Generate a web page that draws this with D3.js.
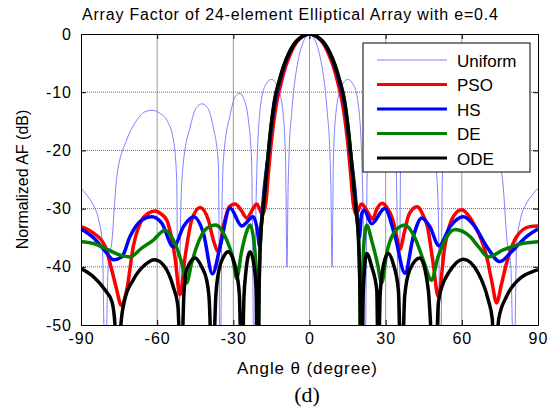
<!DOCTYPE html>
<html>
<head>
<meta charset="utf-8">
<script src="https://cdn.jsdelivr.net/npm/d3@7"></script>
<style>
body { margin:0; background:#fff; }
text { font-family: "Liberation Sans", Arial, sans-serif; }
</style>
</head>
<body>
<svg id="graph1"></svg>
<script>

// values, [angle in degree, AF in dB]

var uniformAF = [[-90,-26.5],[-87.5,-27.8],[-85,-29.5],[-83,-32],[-81.6,-36],[-80.5,-60],
    [-79.3,-40],[-77.9,-35.9],[-75.9,-24.5],[-72,-18.2],[-68,-14.8],[-65,-13.4],[-62,-13.1],[-59,-13.6],[-56.2,-14.8],[-53.6,-18.2],[-52.3,-25],[-51.7,-60],
    [-50.7,-30],[-49.7,-22.2],[-47,-16],[-44.5,-12.6],[-42.3,-12],[-40,-12.8],[-37.9,-16],[-35.9,-22.2],[-35.2,-60],
    [-34.4,-28],[-33.8,-21],[-31.3,-14],[-29.3,-10.8],[-27.4,-10.2],[-25.8,-11.2],[-24.1,-14.7],[-22.8,-22],[-21.8,-60],
    [-21.1,-30],[-19.6,-13.6],[-17.6,-9],[-15,-7.8],[-12.4,-9.3],[-10.4,-13.6],[-9.4,-22],[-8.9,-40],
    [-8.4,-26],[-8,-20],[-7,-13.5],[-6,-8.8],[-5,-5.8],[-4,-3.6],[-3,-2],[-2,-0.9],[-1,-0.2],[0,0],
    [1,-0.2],[2,-0.9],[3,-2],[4,-3.6],[5,-5.8],[6,-8.8],[7,-13.5],[8,-20],[8.4,-26],
    [8.9,-40],[9.4,-22],[10.4,-13.6],[12.4,-9.3],[15,-7.8],[17.6,-9],[19.6,-13.6],[21.1,-30],
    [21.8,-60],[22.8,-22],[24.1,-14.7],[25.8,-11.2],[27.4,-10.2],[29.3,-10.8],[31.3,-14],[33.8,-21],[34.4,-28],
    [35.2,-60],[35.9,-22.2],[37.9,-16],[40,-12.8],[42.3,-12],[44.5,-12.6],[47,-16],[49.7,-22.2],[50.7,-30],
    [51.7,-60],[52.3,-25],[53.6,-18.2],[56.2,-14.8],[59,-13.6],[62,-13.1],[65,-13.4],[68,-14.8],[72,-18.2],[75.9,-24.5],[77.9,-35.9],[79.3,-40],
    [80.5,-60],[81.6,-36],[83,-32],[85,-29.5],[87.5,-27.8],[90,-26.5]];

var psoAF = [[-90,-33.1],[-85.1,-34.2],[-80.5,-36.5],[-77.9,-40.5],[-75.9,-44],[-74.2,-46.6],[-72,-44],[-69.4,-36.5],[-66.1,-32],[-63.5,-30.8],
    [-60.8,-30.4],[-58.5,-30.9],[-56.2,-32],[-53,-38.3],[-51,-44.8],[-49,-38.3],[-46.4,-32],[-43.1,-29.8],[-39.8,-32],[-37.8,-35.5],
    [-35.9,-37.4],[-33.9,-33],[-31.5,-29.6],[-29.3,-29.2],[-27,-30.2],[-24.7,-31.6],[-22.5,-30.2],[-20.8,-29.2],[-18.5,-31],
    [-17.2,-29],[-16.2,-24],[-15,-18.5],[-13.2,-12.5],[-11.3,-8.6],[-9.4,-5.6],[-7.4,-3.3],[-5.5,-1.7],[-3.6,-0.7],[-1.8,-0.2],[0,0],
    [1.8,-0.2],[3.6,-0.7],[5.5,-1.7],[7.4,-3.3],[9.4,-5.6],[11.3,-8.6],[13.2,-12.5],[15,-18.5],[16.2,-24],[17.2,-29],
    [18.3,-31],[20.5,-29.2],[22.7,-30.4],[24.8,-31.8],[26.6,-30],[28.6,-29.1],[30.6,-29.9],[32.6,-31.6],[34.2,-34.5],[35.6,-37],
    [37.4,-34],[39.2,-31],[42.4,-29.7],[45,-31.4],[46.4,-33],[48.7,-39.4],[50.7,-45.1],[53.3,-36.5],[56.6,-31.4],[59.9,-30.2],
    [62.3,-31],[64.5,-32.5],[69.8,-38.3],[71.8,-42.5],[73.7,-46.2],[75.6,-43],[77.6,-39.4],[81.6,-34.8],[86.8,-33.1],[90,-33]];

var hsAF = [[-90,-33.5],[-85.1,-35],[-80.5,-37.3],[-77.2,-38.8],[-73.9,-38.3],[-70.7,-34.8],[-66.7,-32.2],[-62.1,-31.4],[-58.2,-32.5],
    [-53.6,-36.6],[-49.5,-33],[-45.7,-31.4],[-41.8,-34.2],[-38.2,-41.2],[-35.2,-36.5],[-31.3,-29.9],[-26.7,-33],[-22.1,-31.4],
    [-20.6,-33.5],[-19.6,-36.5],[-18.8,-31.5],[-17.8,-26.5],[-16.3,-21],[-15,-16],[-13.3,-11],[-11.6,-8],[-9.7,-5.2],[-7.7,-3.1],
    [-5.8,-1.6],[-3.8,-0.7],[-1.9,-0.2],[0,0],
    [1.9,-0.2],[3.8,-0.7],[5.8,-1.6],[7.7,-3.1],[9.7,-5.2],[11.6,-8],[13.3,-11],[15,-16],[16.3,-21],[17.8,-26.5],[18.8,-31.5],
    [19.6,-35],[20.5,-31],[21.5,-30.3],[24.5,-32.6],[29.6,-30],[33.7,-34.8],[37.6,-41.1],[40.9,-34.8],[44.2,-31.6],[47.4,-33.1],
    [51,-36.4],[55.5,-33],[60.6,-31.4],[65,-33],[69.8,-36.5],[75,-39.1],[79.6,-37.4],[85.5,-34.8],[90,-33.5]];

var deAF = [[-90,-35.7],[-85.1,-36],[-79.2,-37.1],[-74.6,-38],[-70.7,-38.3],[-66.1,-36.8],[-61.5,-35.4],[-56.9,-33.7],[-53.6,-35.4],
    [-50.3,-39.4],[-48.4,-42.8],[-46.5,-39.5],[-44.4,-36.5],[-40.5,-33.4],[-37,-32.8],[-32.6,-35.4],[-30.2,-38.5],[-28.7,-42],
    [-26.8,-37.5],[-24.8,-34],[-23.4,-32.8],[-21.8,-36],[-20.9,-42],[-20.3,-60],
    [-19.8,-43],[-19.3,-35.5],[-18.5,-31],[-17.6,-27],[-16.6,-22.2],[-15.3,-16.5],[-13.6,-11],[-12,-8.2],[-10,-5.3],[-8,-3.2],
    [-6,-1.7],[-4,-0.8],[-2,-0.2],[0,0],
    [2,-0.2],[4,-0.8],[6,-1.7],[8,-3.2],[10,-5.3],[12,-8.2],[13.6,-11],[15.3,-16.5],[16.6,-22.2],[17.6,-27],[18.5,-31],[19.3,-35.5],[19.8,-43],
    [20.2,-60],[20.9,-42],[21.6,-35],[22.5,-32.8],[24.5,-35.5],[26.8,-39.5],[28.4,-42.8],[30.5,-37.5],[33.5,-34],[37.6,-32.8],
    [41.5,-35],[44.8,-38.8],[48.1,-42.3],[50.5,-38.5],[52.7,-36],[57.3,-33.6],[63.2,-34.8],[67,-36.8],[70.4,-38.3],[76.3,-37.1],
    [82.9,-36.1],[90,-35.7]];

var odeAF = [[-90,-40.3],[-85.1,-41.7],[-80.5,-44],[-77.8,-46],[-76.6,-50],[-75.5,-60],[-74.3,-50],[-72.8,-45.7],[-69.5,-42.3],
    [-64.9,-39.7],[-61,-38.8],[-57,-40],[-53.7,-43.4],[-51.8,-46.9],[-50.6,-60],[-49.5,-45],[-48.4,-40.5],[-45,-38.5],[-42.5,-40],
    [-40.5,-42.3],[-39.5,-45.7],[-38.2,-60],[-36.9,-45],[-35.9,-41.1],[-33.5,-38],[-32,-37.4],[-30.5,-38.2],[-28.7,-41.1],[-27.6,-45],
    [-26.7,-60],[-25.8,-45],[-25.2,-41.5],[-23.4,-37.4],[-21.8,-40],[-21,-44],[-20.4,-60],
    [-19.8,-42],[-19.3,-35],[-18.5,-31],[-17.6,-27],[-16.6,-22.2],[-15.3,-16.5],[-13.6,-11],[-12,-8.2],[-10,-5.3],[-8,-3.2],
    [-6,-1.7],[-4,-0.8],[-2,-0.2],[0,0],
    [2,-0.2],[4,-0.8],[6,-1.7],[8,-3.2],[10,-5.3],[12,-8.2],[13.6,-11],[15.3,-16.5],[16.6,-22.2],[17.6,-27],[18.5,-31],[19.3,-35],[19.8,-42],
    [20.4,-60],[21.2,-44],[22.5,-37.7],[24.5,-40],[26.5,-44],[27.1,-60],[27.8,-45],[29,-40],[31,-37.7],[33,-39.5],[35,-44],
    [36.3,-60],[37.5,-45],[39.5,-40.5],[43.5,-38.5],[45.5,-40.5],[46.8,-44],[49.4,-60],[50.8,-46],[52.5,-43],[54.7,-41.1],
    [60.6,-38.7],[66.5,-41.1],[70.4,-45.7],[72,-49],[73,-60],[74.5,-49],[77.6,-45.1],[82.9,-42],[88.1,-40.8],[90,-40.5]];

var seriesNames = ["Uniform","PSO","HS","DE","ODE"];
var seriesData = [uniformAF, psoAF, hsAF, deAF, odeAF];
var xTicks = [-90,-60,-30,0,30,60,90];
var yTicks = [0,-10,-20,-30,-40,-50];

var lineStyles = [
    {color:"#7f7fff", width:1},
    {color:"#ff0000", width:3.5},
    {color:"#0000ff", width:3.5},
    {color:"#008000", width:3.5},
    {color:"#000000", width:3.5}
];

var initGraph = function()
{
    var screen = {width:557, height:409}
    var margins = {left:81, right:19, top:34, bottom:84}

    var graph =
        {
            width: screen.width - margins.left - margins.right,
            height: screen.height - margins.top - margins.bottom
        }

    var svg = d3.select("#graph1")
        .attr("width", screen.width)
        .attr("height", screen.height)

    var xScale = d3.scaleLinear()
        .domain([-90,90])
        .range([0, graph.width])

    var yScale = d3.scaleLinear()
        .domain([-50,0])
        .range([graph.height, 0])

    var target = svg.append("g")
        .attr("transform", "translate(" + margins.left + "," + margins.top + ")")

    drawGrid(target, graph, xScale, yScale)
    drawLines(target, graph, xScale, yScale)
    drawAxis(target, graph, xScale, yScale)
    drawLegend(target)
    drawLabels(svg, graph, margins)
}

var drawGrid = function(target, graph, xScale, yScale)
{
    var grid = target.append("g")

    grid.selectAll(".vgrid")
        .data(xTicks.slice(1, -1))
        .enter()
        .append("line")
        .attr("x1", function(d) { return xScale(d) })
        .attr("x2", function(d) { return xScale(d) })
        .attr("y1", 0)
        .attr("y2", graph.height)
        .attr("stroke", "#9a9a9a")
        .attr("stroke-width", 1)

    grid.selectAll(".hgrid")
        .data(yTicks.slice(1, -1))
        .enter()
        .append("line")
        .attr("x1", 0)
        .attr("x2", graph.width)
        .attr("y1", function(d) { return yScale(d) })
        .attr("y2", function(d) { return yScale(d) })
        .attr("stroke", "#666")
        .attr("stroke-dasharray", "1,1")
        .attr("stroke-width", 1)
}

var drawLines = function(target, graph, xScale, yScale)
{
    target.append("clipPath")
        .attr("id", "plotclip")
        .append("rect")
        .attr("width", graph.width)
        .attr("height", graph.height)

    var line = d3.line()
        .x(function(d) { return xScale(d[0]) })
        .y(function(d) { return yScale(d[1]) })
        .curve(d3.curveMonotoneX)

    target.append("g")
        .attr("clip-path", "url(#plotclip)")
        .selectAll("path")
        .data(seriesData)
        .enter()
        .append("path")
        .attr("d", line)
        .attr("fill", "none")
        .attr("stroke", function(d, i) { return lineStyles[i].color })
        .attr("stroke-width", function(d, i) { return lineStyles[i].width })
        .attr("stroke-linejoin", "round")
}

var drawAxis = function(target, graph, xScale, yScale)
{
    var plain = function(d) { return String(d) }

    var xAxis = d3.axisBottom(xScale).tickValues(xTicks).tickSizeInner(-5).tickSizeOuter(0).tickPadding(8).tickFormat(plain)
    var yAxis = d3.axisLeft(yScale).tickValues(yTicks).tickSizeInner(-5).tickSizeOuter(0).tickPadding(9).tickFormat(plain)
    var xTop = d3.axisTop(xScale).tickValues(xTicks).tickSizeInner(-5).tickSizeOuter(0).tickFormat("")
    var yRight = d3.axisRight(yScale).tickValues(yTicks).tickSizeInner(-5).tickSizeOuter(0).tickFormat("")

    var axes = target.append("g")

    axes.append("g")
        .attr("transform", "translate(0," + graph.height + ")")
        .call(xAxis)
    axes.append("g")
        .call(yAxis)
    axes.append("g")
        .call(xTop)
    axes.append("g")
        .attr("transform", "translate(" + graph.width + ",0)")
        .call(yRight)

    axes.selectAll(".domain").attr("stroke", "#000")
    axes.selectAll(".tick line").attr("stroke", "#000")
    axes.selectAll(".tick text")
        .attr("font-size", 16)
        .attr("font-family", "Liberation Sans, Arial, sans-serif")
        .attr("letter-spacing", 1)
        .attr("fill", "#000")
}

var drawLegend = function(target)
{
    var legend = target.append("g")
        .attr("transform", "translate(282,9)")

    legend.append("rect")
        .attr("width", 167)
        .attr("height", 129)
        .attr("fill", "#fff")
        .attr("stroke", "#000")

    var rows = legend.selectAll(".row")
        .data(seriesNames)
        .enter()
        .append("g")
        .attr("transform", function(d, i) { return "translate(0," + (17 + i * 24.5) + ")" })

    rows.append("line")
        .attr("x1", 14)
        .attr("x2", 84)
        .attr("stroke", function(d, i) { return lineStyles[i].color })
        .attr("stroke-width", function(d, i) { return i == 0 ? 1 : 3 })

    rows.append("text")
        .text(function(d) { return d })
        .attr("x", 94)
        .attr("y", 6.5)
        .attr("font-size", 17)
}

var drawLabels = function(svg, graph, margins)
{
    svg.append("text")
        .text("Array Factor of 24-element Elliptical Array with e=0.4")
        .attr("x", 82)
        .attr("y", 20)
        .attr("textLength", 416)
        .attr("lengthAdjust", "spacing")
        .attr("font-size", 16)

    svg.append("text")
        .text("Angle \u03B8 (degree)")
        .attr("x", 237)
        .attr("y", 374)
        .attr("textLength", 140)
        .attr("lengthAdjust", "spacing")
        .attr("font-size", 17)

    svg.append("g")
        .attr("transform", "translate(28," + (margins.top + graph.height / 2) + ")")
        .append("text")
        .text("Normalized AF (dB)")
        .attr("text-anchor", "middle")
        .attr("transform", "rotate(270)")
        .attr("font-size", 16)

    svg.append("text")
        .text("(d)")
        .attr("x", 307)
        .attr("y", 402)
        .attr("text-anchor", "middle")
        .attr("font-size", 22)
        .style("font-family", "Liberation Serif, Times New Roman, serif")
}

initGraph()

</script>
</body>
</html>
